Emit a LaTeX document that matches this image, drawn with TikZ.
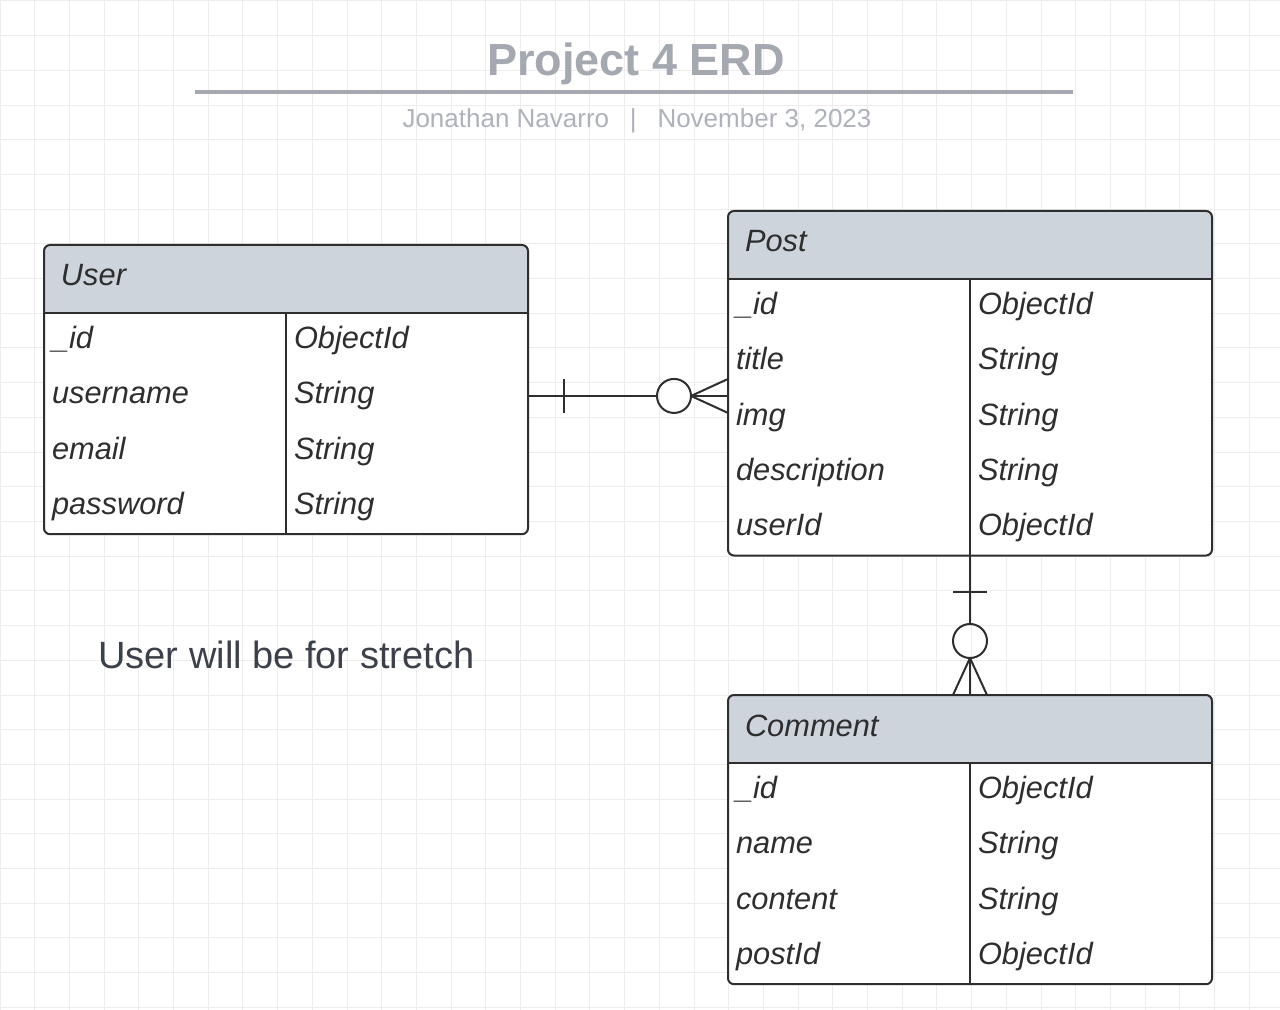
\documentclass[tikz,border=0pt]{standalone}
\usepackage{fontspec}
\setmainfont{Liberation Sans}
\usetikzlibrary{positioning,calc,backgrounds}

\definecolor{gridgray}{HTML}{ECECEC}
\definecolor{titlegray}{HTML}{A4A8B1}
\definecolor{subgray}{HTML}{AEB2BA}
\definecolor{headfill}{HTML}{CED4DC}
\definecolor{inkgray}{HTML}{2E2E2E}
\definecolor{notegray}{HTML}{3B404A}

\tikzset{
  headcell/.style={anchor=north west, inner xsep=8.5pt, inner ysep=0pt, outer sep=0pt,
    minimum width=242pt, minimum height=34pt, text width=225pt, align=left,
    text height=11pt, text depth=4pt,
    font=\fontsize{15.4}{18}\selectfont\itshape, text=inkgray},
  fieldcell/.style={anchor=north west, inner xsep=4pt, inner ysep=0pt, outer sep=0pt,
    minimum width=121pt, minimum height=27.65pt, text width=113pt, align=left,
    text height=11pt, text depth=3pt,
    font=\fontsize{15.4}{18}\selectfont\itshape, text=inkgray},
  tablebox/.style={draw=inkgray, line width=1pt},
  relline/.style={draw=inkgray, line width=1pt}
}

\begin{document}
\begin{tikzpicture}[x=0.5pt,y=-0.5pt]
  \useasboundingbox (0,0) rectangle (1280,1010);

  % grid paper
  \begin{scope}[on background layer]
    \fill[white] (0,0) rectangle (1280,1010);
    \foreach \gx in {0,34.7,...,1280}
      \draw[gridgray, line width=0.5pt] (\gx,0) -- (\gx,1010);
    \foreach \gy in {1,35.7,...,1010}
      \draw[gridgray, line width=0.5pt] (0,\gy) -- (1280,\gy);
  \end{scope}

  % title block
  \node[font=\fontsize{22.5}{26}\selectfont\bfseries, text=titlegray] (title) at (636,64) {Project 4 ERD};
  \coordinate (rulel) at (195,92);
  \coordinate (ruler) at (1073,92);
  \draw[titlegray, line width=2pt] (rulel) -- (ruler);
  \node[font=\fontsize{13}{15}\selectfont, text=subgray] (byline) at (637,121)
    {Jonathan Navarro\hspace{0.8em}|\hspace{0.8em}November 3, 2023};

  % User
  \begin{scope}
    \node[headcell] (user) at (44,245) {User};
    \foreach \f/\t [count=\k] in {\_id/ObjectId, username/String, email/String, password/String} {
      \node[fieldcell] (user-f\k) at ($(user.south west)+(0,{(\k-1)*55.3})$) {\f};
      \node[fieldcell] (user-t\k) at (user-f\k.north east) {\t};
    }
    \begin{scope}[on background layer]
      \fill[white, rounded corners=3pt] (user.north west) rectangle (user-t4.south east);
      \fill[headfill] (user.south west) [rounded corners=3pt] -- (user.north west) -- (user.north east) [sharp corners] -- (user.south east) -- cycle;
    \end{scope}
    \draw[tablebox, rounded corners=3pt] (user.north west) rectangle (user-t4.south east);
    \draw[tablebox] (user.south west) -- (user.south east);
    \draw[tablebox] (user-t1.north west) -- (user-t4.south west);
  \end{scope}

  % Post
  \begin{scope}
    \node[headcell] (post) at (728,211) {Post};
    \foreach \f/\t [count=\k] in {\_id/ObjectId, title/String, img/String, description/String, userId/ObjectId} {
      \node[fieldcell] (post-f\k) at ($(post.south west)+(0,{(\k-1)*55.3})$) {\f};
      \node[fieldcell] (post-t\k) at (post-f\k.north east) {\t};
    }
    \begin{scope}[on background layer]
      \fill[white, rounded corners=3pt] (post.north west) rectangle (post-t5.south east);
      \fill[headfill] (post.south west) [rounded corners=3pt] -- (post.north west) -- (post.north east) [sharp corners] -- (post.south east) -- cycle;
    \end{scope}
    \draw[tablebox, rounded corners=3pt] (post.north west) rectangle (post-t5.south east);
    \draw[tablebox] (post.south west) -- (post.south east);
    \draw[tablebox] (post-t1.north west) -- (post-t5.south west);
  \end{scope}

  % Comment
  \begin{scope}
    \node[headcell] (comment) at (728,695) {Comment};
    \foreach \f/\t [count=\k] in {\_id/ObjectId, name/String, content/String, postId/ObjectId} {
      \node[fieldcell] (comment-f\k) at ($(comment.south west)+(0,{(\k-1)*55.3})$) {\f};
      \node[fieldcell] (comment-t\k) at (comment-f\k.north east) {\t};
    }
    \begin{scope}[on background layer]
      \fill[white, rounded corners=3pt] (comment.north west) rectangle (comment-t4.south east);
      \fill[headfill] (comment.south west) [rounded corners=3pt] -- (comment.north west) -- (comment.north east) [sharp corners] -- (comment.south east) -- cycle;
    \end{scope}
    \draw[tablebox, rounded corners=3pt] (comment.north west) rectangle (comment-t4.south east);
    \draw[tablebox] (comment.south west) -- (comment.south east);
    \draw[tablebox] (comment-t1.north west) -- (comment-t4.south west);
  \end{scope}

  % User one -- many Post
  \coordinate (rel1a) at (user-t2.east);
  \coordinate (rel1b) at (user-t2.east -| post.west);
  \draw[relline] (rel1a) -- ($(rel1b)+(-71,0)$);
  \draw[relline] ($(rel1a)+(36,-17)$) -- ++(0,34);
  \draw[relline] ($(rel1b)+(-54,0)$) circle[radius=8.5pt];
  \draw[relline] ($(rel1b)+(-37,0)$) -- (rel1b);
  \draw[relline] ($(rel1b)+(-37,0)$) -- ($(rel1b)+(0,-17)$);
  \draw[relline] ($(rel1b)+(-37,0)$) -- ($(rel1b)+(0,17)$);

  % Post one -- many Comment
  \coordinate (rel2a) at (post-t5.south west);
  \coordinate (rel2b) at (rel2a |- comment.north);
  \draw[relline] (rel2a) -- ($(rel2b)+(0,-71)$);
  \draw[relline] ($(rel2a)+(-17,36)$) -- ++(34,0);
  \draw[relline] ($(rel2b)+(0,-54)$) circle[radius=8.5pt];
  \draw[relline] ($(rel2b)+(0,-37)$) -- (rel2b);
  \draw[relline] ($(rel2b)+(0,-37)$) -- ($(rel2b)+(-17,0)$);
  \draw[relline] ($(rel2b)+(0,-37)$) -- ($(rel2b)+(17,0)$);

  \node[anchor=west, inner sep=0pt, font=\fontsize{19}{22}\selectfont, text=notegray] (note) at (98,655) {User will be for stretch};
\end{tikzpicture}
\end{document}
